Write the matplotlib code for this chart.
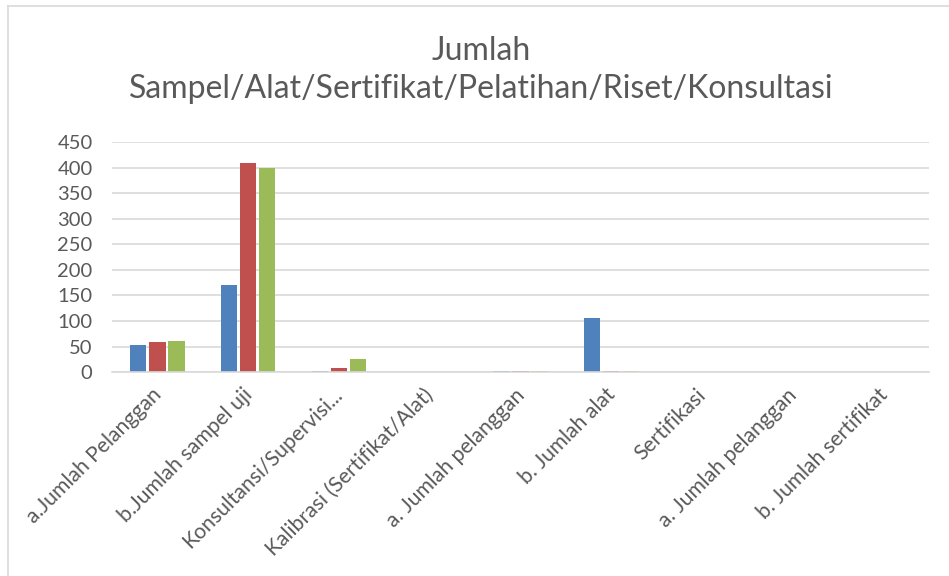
import matplotlib.pyplot as plt
import numpy as np

# data
categories = ['a.Jumlah Pelanggan', 'b.Jumlah sampel uji', 'Konsultansi/Supervisi...',
              'Kalibrasi (Sertifikat/Alat)', 'a. Jumlah pelanggan', 'b. Jumlah alat',
              'Sertifikasi', 'a. Jumlah pelanggan', 'b. Jumlah sertifikat']
seri1 = [53, 170, 2, 0, 2, 106, 0, 0, 0]
seri2 = [58, 409, 8, 0, 2, 2, 0, 0, 0]
seri3 = [60, 399, 26, 0, 2, 2, 0, 0, 0]
yticks = [0, 50, 100, 150, 200, 250, 300, 350, 400, 450]

plt.rcParams['font.family'] = ['Lato', 'DejaVu Sans']

fig = plt.figure(figsize=(9.49, 5.76), dpi=100)
# chart frame (only top and left edges visible in the crop)
fig.add_artist(plt.Line2D([0.0085, 1.0], [0.99, 0.99], transform=fig.transFigure,
                          color='#d9d9d9', linewidth=1.2))
fig.add_artist(plt.Line2D([0.0085, 0.0085], [0.0, 0.99], transform=fig.transFigure,
                          color='#d9d9d9', linewidth=1.2))
ax = fig.add_axes([0.118, 0.354, 0.861, 0.399])

x = np.arange(len(categories))
w = 0.18
step = 0.21
ax.bar(x - step, seri1, w, color='#4F81BD')
ax.bar(x, seri2, w, color='#C0504D')
ax.bar(x + step, seri3, w, color='#9BBB59')

ax.set_xlim(-0.5, len(categories) - 0.5)
ax.set_ylim(0, 450)
ax.set_yticks(yticks)
ax.yaxis.grid(True, color='#d9d9d9', linewidth=1.2)
ax.set_axisbelow(True)
for s in ['top', 'right', 'left']:
    ax.spines[s].set_visible(False)
ax.spines['bottom'].set_color('#d9d9d9')
ax.spines['bottom'].set_linewidth(1.2)
ax.tick_params(axis='y', length=0, labelsize=14.5, colors='#595959', pad=14)

ax.set_xticks(x - 0.07)
ax.set_xticklabels(categories, rotation=45, ha='right', rotation_mode='anchor')
ax.tick_params(axis='x', length=0, labelsize=15.2, colors='#595959', pad=9)

fig.text(0.507, 0.878, 'Jumlah\nSampel/Alat/Sertifikat/Pelatihan/Riset/Konsultasi',
         ha='center', va='center', fontsize=23, color='#595959', linespacing=1.35)

fig.savefig('out.png', dpi=100)
